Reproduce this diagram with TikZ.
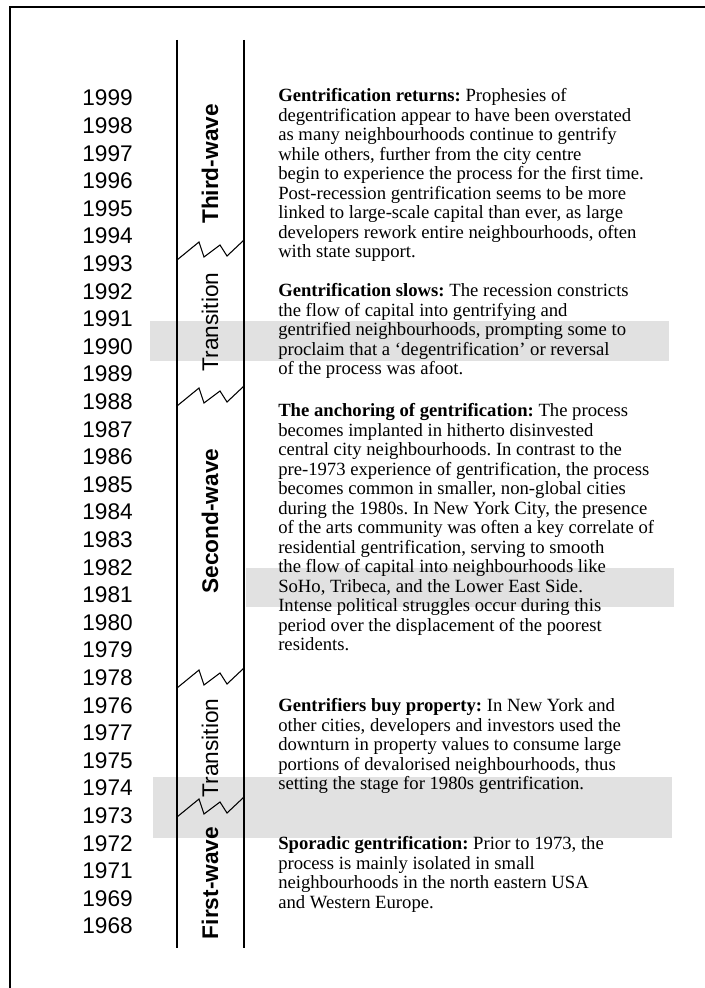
\documentclass[tikz,border=0pt]{standalone}
\usepackage{fontspec}
\setmainfont{Liberation Serif}
\setsansfont{Liberation Sans}
\definecolor{bandgray}{RGB}{225,225,225}
\frenchspacing

\begin{document}
\begin{tikzpicture}[
  x=0.75pt, y=-0.75pt,
  year/.style={anchor=east, inner sep=0pt, font=\sffamily\fontsize{17}{17}\selectfont},
  wave/.style={rotate=90, inner sep=0pt, font=\sffamily\bfseries\fontsize{17}{17}\selectfont},
  trans/.style={rotate=90, inner sep=0pt, font=\sffamily\fontsize{17}{17}\selectfont},
  desc/.style={anchor=north west, inner sep=0pt, align=left,
    font=\fontsize{14}{14.6}\selectfont},
  band/.style={fill=bandgray},
  axis/.style={line width=1.5pt},
  brk/.style={line width=0.8pt},
]
\useasboundingbox (0,0) rectangle (705,988);

\fill[band] (150,321) rectangle (669,361);
\fill[band] (246,568) rectangle (674,607);
\fill[band] (153,777) rectangle (672,838);

\draw[axis] (10,988) -- (10,7) -- (705,7);

\coordinate (tl-top) at (177,40);
\coordinate (tl-bot) at (177,948);
\coordinate (tr-top) at (244,40);
\coordinate (tr-bot) at (244,948);
\draw[axis] (tl-top) -- (tl-bot);
\draw[axis] (tr-top) -- (tr-bot);

\foreach \b in {260,406,688,817} {
  \draw[brk] (177,\b) -- ++(22,-18) -- ++(5,15) -- ++(16,-12) -- ++(7,11) -- ++(17,-16);
}

\foreach \yr [count=\i from 0] in {1999,1998,1997,1996,1995,1994,1993,1992,1991,1990,1989,
    1988,1987,1986,1985,1984,1983,1982,1981,1980,1979,1978,1976,1977,1975,1974,1973,
    1972,1971,1969,1968} {
  \node (y\yr) [year] at (133, {98+27.6*\i}) {\yr};
}

\node (third) [wave] at (210,164) {Third-wave};
\node (tr90) [trans] at (210,322) {Transition};
\node (second) [wave] at (210,521) {Second-wave};
\node (tr70) [trans] at (210,748) {Transition};
\node (first) [wave] at (210,883) {First-wave};

\node (returns) [desc] at (278,88.5) {\textbf{Gentrification returns:} Prophesies of\\
degentrification appear to have been overstated\\
as many neighbourhoods continue to gentrify\\
while others, further from the city centre\\
begin to experience the process for the first time.\\
Post-recession gentrification seems to be more\\
linked to large-scale capital than ever, as large\\
developers rework entire neighbourhoods, often\\
with state support.};

\node (slows) [desc] at (278,283.5) {\textbf{Gentrification slows:} The recession constricts\\
the flow of capital into gentrifying and\\
gentrified neighbourhoods, prompting some to\\
proclaim that a `degentrification' or reversal\\
of the process was afoot.};

\node (anchoring) [desc] at (278,403.5) {\textbf{The anchoring of gentrification:} The process\\
becomes implanted in hitherto disinvested\\
central city neighbourhoods. In contrast to the\\
pre-1973 experience of gentrification, the process\\
becomes common in smaller, non-global cities\\
during the 1980s. In New York City, the presence\\
of the arts community was often a key correlate of\\
residential gentrification, serving to smooth\\
the flow of capital into neighbourhoods like\\
SoHo, Tribeca, and the Lower East Side.\\
Intense political struggles occur during this\\
period over the displacement of the poorest\\
residents.};

\node (buy) [desc] at (278,698.5) {\textbf{Gentrifiers buy property:} In New York and\\
other cities, developers and investors used the\\
downturn in property values to consume large\\
portions of devalorised neighbourhoods, thus\\
setting the stage for 1980s gentrification.};

\node (sporadic) [desc] at (278,836.5) {\textbf{Sporadic gentrification:} Prior to 1973, the\\
process is mainly isolated in small\\
neighbourhoods in the north eastern USA\\
and Western Europe.};
\end{tikzpicture}
\end{document}
